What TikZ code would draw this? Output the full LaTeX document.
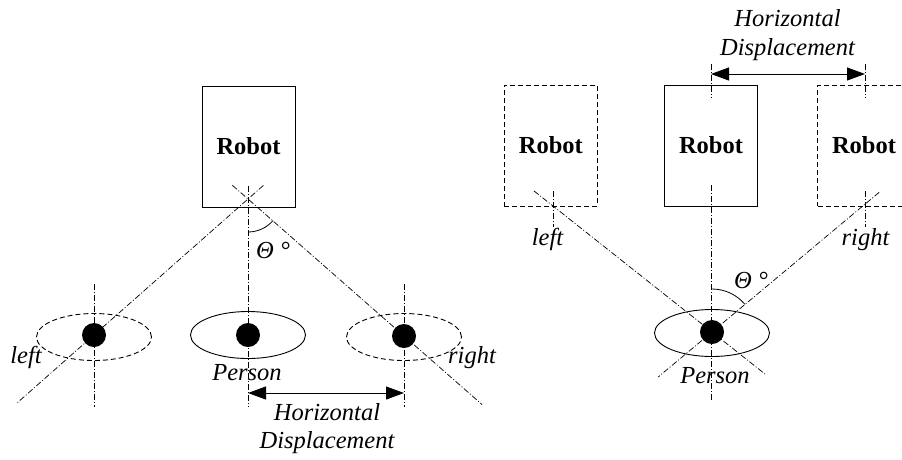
\documentclass[tikz,border=0pt]{standalone}
\usepackage{fontspec}
\setmainfont{Liberation Serif}
\usetikzlibrary{arrows.meta,calc,shapes.geometric}
\begin{document}
\begin{tikzpicture}[x=1pt,y=-1pt,
  robotbox/.style={draw,line width=1pt,minimum width=93pt,minimum height=121pt,inner sep=0pt,
    font=\fontsize{24.5}{28}\selectfont\bfseries},
  ghostbox/.style={robotbox,dash pattern=on 5pt off 3pt},
  axis/.style={line width=0.7pt,dash pattern=on 6pt off 2pt on 1pt off 2pt},
  zone/.style={ellipse,draw,line width=0.9pt,minimum width=115pt,minimum height=47pt,inner sep=0pt},
  ghostzone/.style={zone,dash pattern=on 5pt off 3pt},
  dot/.style={circle,fill,inner sep=0pt,minimum size=24pt},
  dim/.style={line width=1pt,{Triangle[length=18pt,width=13pt]}-{Triangle[length=18pt,width=13pt]}},
  anglearc/.style={line width=0.8pt},
  txt/.style={font=\fontsize{24.5}{28}\selectfont\itshape,inner sep=0pt,anchor=base}
]
\path[use as bounding box,clip] (0,0) rectangle (902,459);

% ---------- left panel: robot fixed, person moves ----------
\node[robotbox] (rL) at (248.5,146.5) {Robot};
\coordinate (apexL) at (248,199);
\node[dot] (pl) at (94,335) {};
\node[dot] (pc) at (248,335) {};
\node[dot] (pr) at (404,336) {};
\node[ghostzone] (el) at (94,337) {};
\node[zone] (ec) at (248,335) {};
\node[ghostzone] (er) at (404,337) {};

% viewing lines from the robot
\draw[axis] ($(pl.center)!1.1!(apexL)$) -- ($(apexL)!1.5!(pl.center)$);
\draw[axis] ($(pr.center)!1.1!(apexL)$) -- ($(apexL)!1.5!(pr.center)$);
\draw[axis] ($(apexL)+(0,-13)$) -- ($(pc.center)+(0,72)$);
\draw[axis] ($(pl.center)+(0,-51)$) -- ($(pl.center)+(0,72)$);
\draw[axis] ($(pr.center)+(0,-52)$) -- ($(pr.center)+(0,71)$);

% angle
\draw[anglearc] ($(apexL)+(0,33)$) arc[start angle=90,end angle=41,radius=33];
\node[txt,anchor=base west] (thetaL) at (256,258) {Θ °};

% displacement
\coordinate (hL1) at (248,393);
\coordinate (hL2) at (404,393);
\draw[dim] (hL1) -- (hL2);
\node[txt] (hLa) at (327,420) {Horizontal};
\node[txt] (hLb) at (327,448) {Displacement};

\node[txt] (leftL) at (26,363) {left};
\node[txt] (rightL) at (472,363) {right};
\node[txt] (personL) at (247,380) {Person};

% ---------- right panel: person fixed, robot moves ----------
\node[ghostbox] (rA) at (550.8,145.5) {Robot};
\node[robotbox] (rB) at (711,145.5) {Robot};
\node[ghostbox] (rC) at (864,145.5) {Robot};
\node[dot] (pp) at (712,332) {};
\node[zone] (ep) at (712,333) {};
\coordinate (fl) at (553,206);
\coordinate (fr) at (864,205);

\draw[axis] ($(pp.center)!1.12!(fl)$) -- ($(fl)!1.34!(pp.center)$);
\draw[axis] ($(pp.center)!1.1!(fr)$) -- ($(fr)!1.354!(pp.center)$);
\draw[axis] (711,185) -- (711,400);
\draw[axis] (711,64) -- (711,98);
\draw[axis] (865,64) -- (865,98);
\draw[axis] ($(fl)+(0,-15)$) -- ($(fl)+(0,21)$);
\draw[axis] (865,191) -- (865,227);

\draw[anglearc] ($(pp.center)+(0,-43)$) arc[start angle=-90,end angle=-40,radius=43];
\node[txt,anchor=base west] (thetaR) at (734,288) {Θ °};

\coordinate (hR1) at (711,74);
\coordinate (hR2) at (865,74);
\draw[dim] (hR1) -- (hR2);
\node[txt] (hRa) at (787.5,26) {Horizontal};
\node[txt] (hRb) at (787.5,55) {Displacement};

\node[txt] (leftR) at (547.5,245) {left};
\node[txt] (rightR) at (865.5,245) {right};
\node[txt] (personR) at (715,383) {Person};
\end{tikzpicture}
\end{document}
